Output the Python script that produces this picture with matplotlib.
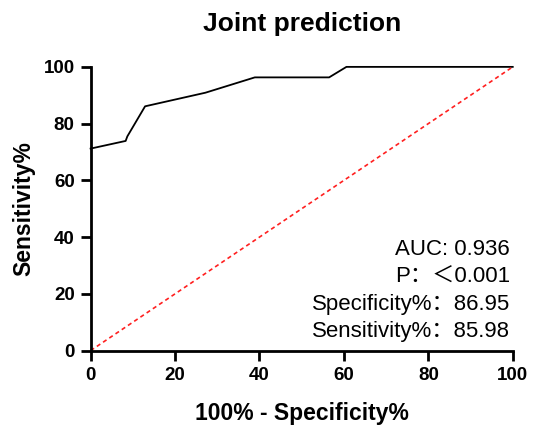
import matplotlib
matplotlib.use('Agg')
import matplotlib.pyplot as plt

# ROC curve points
fpr = [0, 8.3, 8.7, 12.9, 27.2, 38.9, 56.5, 60.6, 100]
tpr = [71.2, 73.9, 75.5, 86.1, 90.9, 96.3, 96.3, 100, 100]
ref_x = [0, 100]
ref_y = [0, 100]
ticks = [0, 20, 40, 60, 80, 100]
stats_lines = ["AUC: 0.936", "P：＜0.001", "Specificity%：86.95", "Sensitivity%：85.98"]

plt.rcParams['font.family'] = ['Liberation Sans', 'Noto Sans CJK SC', 'DejaVu Sans']

fig = plt.figure(figsize=(5.33, 4.26), dpi=100)
ax = fig.add_axes([0.170, 0.177, 0.792, 0.666])

ax.plot(fpr, tpr, color='black', linewidth=1.3, clip_on=False)
ax.plot(ref_x, ref_y, color='#ff2020', linewidth=1.2, linestyle=(0, (2.5, 2)), clip_on=False)

ax.set_xlim(0, 100)
ax.set_ylim(0, 100)
ax.set_xticks(ticks)
ax.set_yticks(ticks)
for s in ['top', 'right']:
    ax.spines[s].set_visible(False)
for s in ['left', 'bottom']:
    ax.spines[s].set_linewidth(2.0)
ax.tick_params(width=2.0, length=7.5, labelsize=13.5, pad=4)
for lab in ax.get_xticklabels() + ax.get_yticklabels():
    lab.set_fontweight('bold')

ax.set_xlabel('100% - Specificity%', fontsize=16.5, fontweight='bold', labelpad=13)
ax.set_ylabel('Sensitivity%', fontsize=16.5, fontweight='bold', labelpad=6)
ax.set_title('Joint prediction', fontsize=19, fontweight='bold', pad=26)

ys = [33.7, 23.8, 14.3, 4.8]
for txt, yv in zip(stats_lines, ys):
    ax.text(99.3, yv, txt, ha='right', va='baseline', fontsize=16)

fig.savefig('out.png', dpi=100)
